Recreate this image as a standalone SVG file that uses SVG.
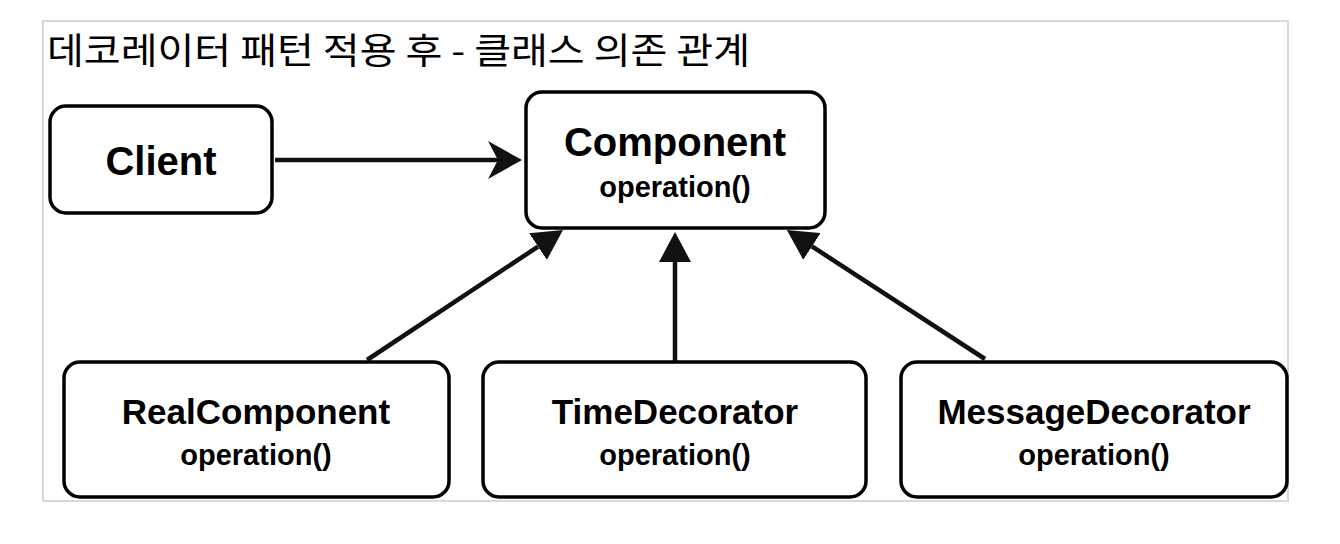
<svg xmlns="http://www.w3.org/2000/svg" width="1340" height="544" viewBox="0 0 1340 544">
<style>
.box{fill:#fff;stroke:#000;stroke-width:3.5}
.t{font-family:"Liberation Sans",Arial,sans-serif;font-weight:bold;text-anchor:middle;fill:#000}
.big{font-size:40px}
.mid{font-size:35px}
.op{font-size:29px}
.edge{stroke:#111;stroke-width:4.5;fill:none}
</style>
<defs>
<marker id="block" markerUnits="userSpaceOnUse" viewBox="0 0 30 32" markerWidth="30" markerHeight="32" refX="0" refY="16" orient="auto">
<path d="M0,0 L30,16 L0,32 Z" fill="#111"/>
</marker>
<marker id="open" markerUnits="userSpaceOnUse" viewBox="0 0 34 38" markerWidth="34" markerHeight="38" refX="10" refY="19" orient="auto">
<path d="M0,0 L34,19 L0,38 L10,19 Z" fill="#111"/>
</marker>
</defs>
<rect x="0" y="0" width="1340" height="544" fill="#fff"/>
<rect x="43" y="21" width="1245" height="480" fill="#fff" stroke="#d9d9d9" stroke-width="2"/>
<text x="47" y="64" font-family="'Noto Sans CJK KR','Noto Sans',sans-serif" font-size="36" fill="#000" textLength="703" lengthAdjust="spacingAndGlyphs">데코레이터 패턴 적용 후 - 클래스 의존 관계</text>
<g id="connectors">
<line class="edge" x1="275" y1="160" x2="498" y2="160" marker-end="url(#open)"/>
<line class="edge" x1="367" y1="360" x2="538" y2="246.6" marker-end="url(#block)"/>
<line class="edge" x1="675" y1="361" x2="675" y2="262" marker-end="url(#block)"/>
<line class="edge" x1="985" y1="359" x2="812" y2="246.4" marker-end="url(#block)"/>
</g>
<g id="client">
<rect class="box" x="50" y="106" width="222" height="107" rx="16"/>
<text class="t big" x="161" y="175">Client</text>
</g>
<g id="component">
<rect class="box" x="526" y="92" width="299" height="136" rx="16"/>
<text class="t big" x="675" y="156">Component</text>
<text class="t op" x="675" y="197">operation()</text>
</g>
<g id="realcomponent">
<rect class="box" x="64" y="362" width="385" height="135" rx="16"/>
<text class="t mid" x="256" y="424">RealComponent</text>
<text class="t op" x="256" y="465">operation()</text>
</g>
<g id="timedecorator">
<rect class="box" x="483" y="362" width="383" height="135" rx="16"/>
<text class="t mid" x="675" y="424">TimeDecorator</text>
<text class="t op" x="675" y="465">operation()</text>
</g>
<g id="messagedecorator">
<rect class="box" x="901" y="362" width="386" height="135" rx="16"/>
<text class="t mid" x="1094" y="424">MessageDecorator</text>
<text class="t op" x="1094" y="465">operation()</text>
</g>
</svg>
